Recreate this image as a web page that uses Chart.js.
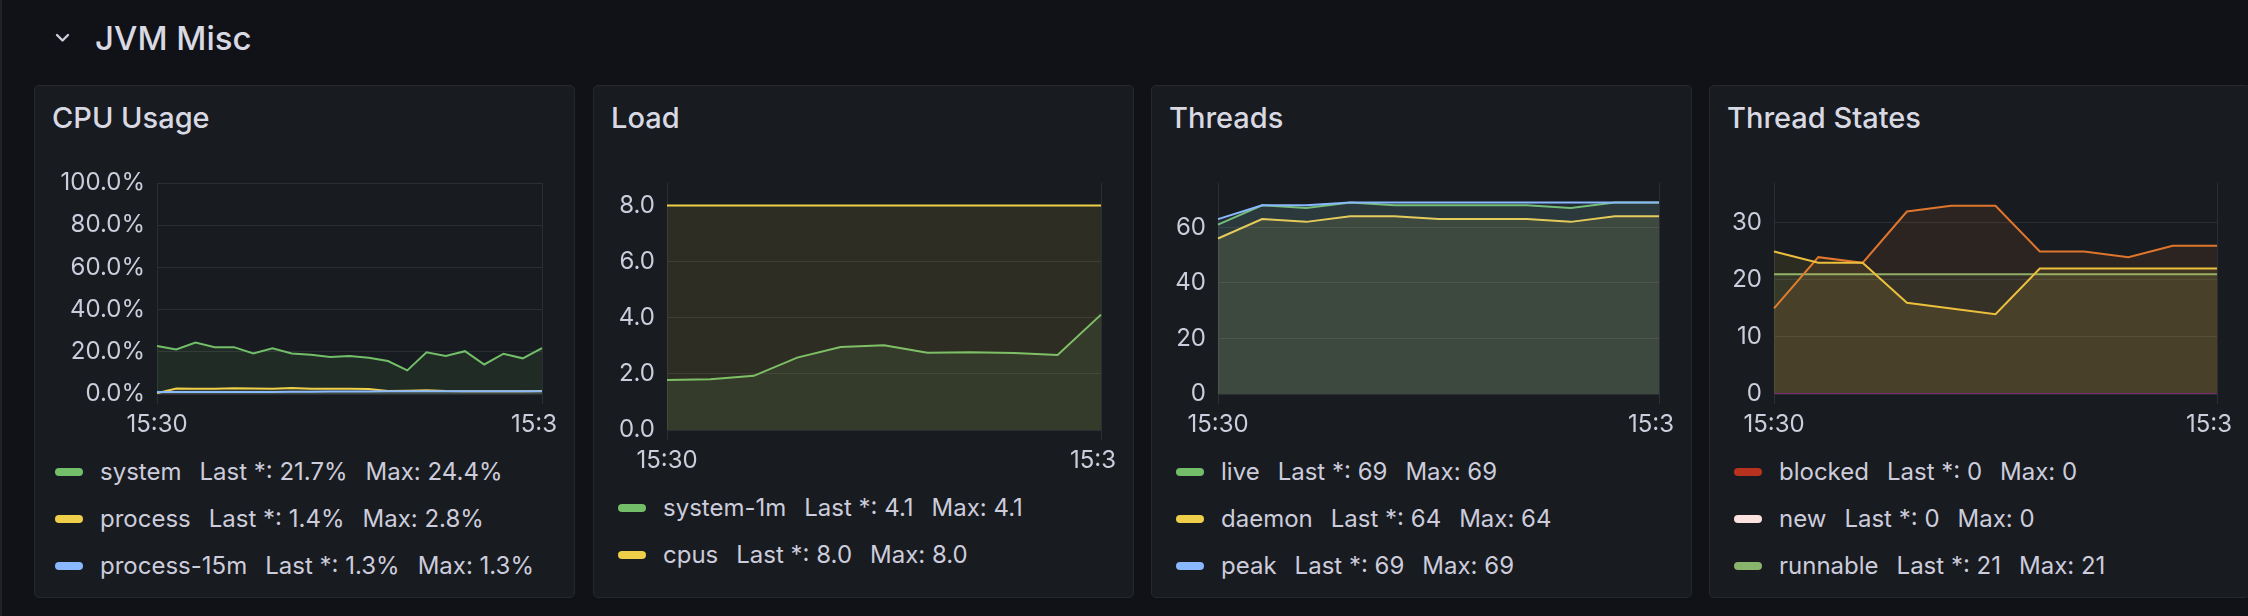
<!DOCTYPE html>
<html>
<head>
<meta charset="utf-8">
<script src="https://cdn.jsdelivr.net/npm/chart.js@4.4.1/dist/chart.umd.min.js"></script>
<style>
    body {
        margin: 0;
        width: 2248px;
        height: 616px;
        overflow: hidden;
        position: relative;
        background: #111217;
        font-family: Inter, "Noto Sans", sans-serif;
        color: #ccccdc;
    }
    .edge { position: absolute; left: 0; top: 0; width: 2px; height: 616px; background: #202227; }
    .row_title { position: absolute; left: 95px; top: 22px; font-size: 33px; line-height: 33px; font-weight: 500; color: #d8d9e3; }
    .chevron { position: absolute; left: 55px; top: 33px; }
    .panel { position: absolute; top: 85px; height: 513px; width: 541px; box-sizing: border-box; background: #181b1f; border: 1px solid #26282e; border-radius: 5px; }
    .panel_title { position: absolute; top: 103px; font-size: 29px; line-height: 29px; font-weight: 500; color: #d8d9e3; }
    canvas { position: absolute; top: 167px; }
    .legend { position: absolute; font-size: 24px; white-space: nowrap; }
    .legend .row { height: 47px; line-height: 47px; display: flex; align-items: center; }
    .legend .swatch { width: 28px; height: 8px; border-radius: 4px; margin-right: 17px; }
    .legend .stat { margin-left: 18px; }
</style>
</head>
<body>
<div class="edge"></div>
<svg class="chevron" width="15" height="10" viewBox="0 0 15 10"><polyline points="2,2 7.5,7.5 13,2" fill="none" stroke="#ccccdc" stroke-width="2.4" stroke-linecap="round" stroke-linejoin="round"/></svg>
<div class="row_title">JVM Misc</div>

<script>
// x categories
var times15s = ['15:30:00', '15:30:15', '15:30:30', '15:30:45', '15:31:00', '15:31:15', '15:31:30', '15:31:45',
    '15:32:00', '15:32:15', '15:32:30', '15:32:45', '15:33:00', '15:33:15', '15:33:30', '15:33:45',
    '15:34:00', '15:34:15', '15:34:30', '15:34:45', '15:35:00'];
var times30s = ['15:30:00', '15:30:30', '15:31:00', '15:31:30', '15:32:00', '15:32:30',
    '15:33:00', '15:33:30', '15:34:00', '15:34:30', '15:35:00'];
var xTickLabels = ['15:30', '15:3'];

// CPU Usage (%)
var cpuSystem = [22.7, 21.1, 24.4, 22.2, 22.2, 19.2, 21.7, 19.2, 18.6, 17.5, 18.0, 17.2, 15.6, 11.2, 19.8, 18.0, 20.3, 14.0, 19.1, 16.9, 21.7];
var cpuProcess = [0.4, 2.6, 2.5, 2.5, 2.7, 2.6, 2.5, 2.8, 2.5, 2.5, 2.5, 2.4, 1.4, 1.5, 1.8, 1.4, 1.3, 1.3, 1.3, 1.3, 1.4];
var cpuProcess15m = [0.9, 0.9, 1.0, 1.0, 1.0, 1.0, 1.0, 1.1, 1.1, 1.2, 1.2, 1.2, 1.3, 1.3, 1.3, 1.3, 1.3, 1.3, 1.3, 1.3, 1.3];
var cpuTicks = [0, 20, 40, 60, 80, 100];

// Load
var loadSystem1m = [1.78, 1.81, 1.93, 2.58, 2.96, 3.02, 2.75, 2.77, 2.74, 2.67, 4.11];
var loadCpus = [8, 8, 8, 8, 8, 8, 8, 8, 8, 8, 8];
var loadTicks = [0, 2, 4, 6, 8];

// Threads
var threadsLive = [61, 68, 67, 69, 68, 68, 68, 68, 67, 69, 69];
var threadsDaemon = [56, 63, 62, 64, 64, 63, 63, 63, 62, 64, 64];
var threadsPeak = [63, 68, 68, 69, 69, 69, 69, 69, 69, 69, 69];
var threadsTicks = [0, 20, 40, 60];

// Thread States
var statesBlocked = [0, 0, 0, 0, 0, 0, 0, 0, 0, 0, 0];
var statesNew = [0, 0, 0, 0, 0, 0, 0, 0, 0, 0, 0];
var statesRunnable = [21, 21, 21, 21, 21, 21, 21, 21, 21, 21, 21];
var statesTerminated = [0, 0, 0, 0, 0, 0, 0, 0, 0, 0, 0];
var statesTimedWaiting = [15, 24, 23, 32, 33, 33, 25, 25, 24, 26, 26];
var statesWaiting = [25, 23, 23, 16, 15, 14, 22, 22, 22, 22, 22];
var statesTicks = [0, 10, 20, 30];

var gridColor = '#2b2e33';
var textColor = '#ccccdc';

Chart.defaults.font.family = 'Inter, "Noto Sans", sans-serif';
Chart.defaults.font.size = 24;
Chart.defaults.color = textColor;

function fade(hex, a) {
    var n = parseInt(hex.slice(1), 16);
    return 'rgba(' + (n >> 16) + ',' + ((n >> 8) & 255) + ',' + (n & 255) + ',' + a + ')';
}

var xLabels = {
    id: 'xLabels',
    afterDraw: function (chart) {
        var ctx = chart.ctx;
        var x = chart.scales.x;
        var n = chart.data.labels.length;
        var y = chart.chartArea.bottom + 38;
        ctx.save();
        ctx.font = '24px Inter, "Noto Sans", sans-serif';
        ctx.fillStyle = textColor;
        ctx.textBaseline = 'alphabetic';
        ctx.textAlign = 'center';
        ctx.fillText(xTickLabels[0], x.getPixelForValue(0), y);
        ctx.textAlign = 'left';
        ctx.fillText(xTickLabels[1], x.getPixelForValue(n - 1) - 31, y);
        ctx.restore();
    }
};

function panel(p) {
    var box = document.createElement('div');
    box.className = 'panel';
    box.style.left = p.left + 'px';
    document.body.appendChild(box);

    var title = document.createElement('div');
    title.className = 'panel_title';
    title.style.left = (p.left + 18) + 'px';
    title.textContent = p.title;
    document.body.appendChild(title);

    var cv = document.createElement('canvas');
    cv.width = 541;
    cv.height = p.height;
    cv.style.left = p.left + 'px';
    document.body.appendChild(cv);

    var datasets = p.series.map(function (s, i) {
        return {
            label: s.name,
            data: s.data,
            borderColor: s.color,
            backgroundColor: fade(s.color, 0.1),
            borderWidth: 2,
            pointRadius: 0,
            tension: 0,
            fill: 'origin',
            order: s.order !== undefined ? s.order : -i
        };
    });

    new Chart(cv, {
        type: 'line',
        data: { labels: p.labels, datasets: datasets },
        plugins: [xLabels],
        options: {
            responsive: false,
            animation: false,
            devicePixelRatio: 1,
            layout: { padding: { top: 16, right: 33, left: 0, bottom: 0 } },
            plugins: { legend: { display: false }, tooltip: { enabled: false } },
            scales: {
                x: {
                    border: { display: false },
                    grid: { color: gridColor, tickLength: 10, drawTicks: true },
                    ticks: { display: false },
                    afterBuildTicks: function (scale) {
                        var t = scale.ticks;
                        scale.ticks = [t[0], t[t.length - 1]];
                    },
                    afterFit: function (scale) { scale.height = 45; }
                },
                y: {
                    min: 0,
                    max: p.max,
                    border: { display: false },
                    grid: { color: gridColor, drawTicks: false },
                    ticks: { padding: 12, color: textColor, callback: p.fmt },
                    afterBuildTicks: function (scale) {
                        scale.ticks = p.ticks.map(function (v) { return { value: v }; });
                    },
                    afterFit: function (scale) {
                        scale.width = p.axisWidth;
                        scale.paddingTop = 0;
                        scale.paddingBottom = 0;
                    }
                }
            }
        }
    });

    // legend: name, last, max
    var lg = document.createElement('div');
    lg.className = 'legend';
    lg.style.left = (p.left + p.legendLeft) + 'px';
    lg.style.top = p.legendTop + 'px';
    p.series.slice(0, p.legendRows).forEach(function (s) {
        var last = s.data[s.data.length - 1];
        var max = Math.max.apply(null, s.data);
        var row = document.createElement('div');
        row.className = 'row';
        row.innerHTML = '<span class="swatch" style="background:' + s.color + '"></span>' +
            '<span>' + s.name + '</span>' +
            '<span class="stat">Last *: ' + p.stat(last) + '</span>' +
            '<span class="stat">Max: ' + p.stat(max) + '</span>';
        lg.appendChild(row);
    });
    document.body.appendChild(lg);
}

var pct = function (v) { return v.toFixed(1) + '%'; };
var one = function (v) { return v.toFixed(1); };
var whole = function (v) { return String(Math.round(v)); };

panel({
    title: 'CPU Usage', left: 34, axisWidth: 123, legendLeft: 21, legendTop: 448, legendRows: 3,
    height: 272, max: 100, ticks: cpuTicks, fmt: pct, stat: pct, labels: times15s,
    series: [
        { name: 'system', data: cpuSystem, color: '#73bf69' },
        { name: 'process', data: cpuProcess, color: '#eecf4a' },
        { name: 'process-15m', data: cpuProcess15m, color: '#8ab8ff' }
    ]
});

panel({
    title: 'Load', left: 593, axisWidth: 74, legendLeft: 25, legendTop: 484, legendRows: 2,
    height: 308, max: 8.8, ticks: loadTicks, fmt: one, stat: one, labels: times30s,
    series: [
        { name: 'system-1m', data: loadSystem1m, color: '#73bf69' },
        { name: 'cpus', data: loadCpus, color: '#eecf4a' }
    ]
});

panel({
    title: 'Threads', left: 1151, axisWidth: 67, legendLeft: 25, legendTop: 448, legendRows: 3,
    height: 272, max: 76, ticks: threadsTicks, fmt: whole, stat: whole, labels: times30s,
    series: [
        { name: 'live', data: threadsLive, color: '#73bf69' },
        { name: 'daemon', data: threadsDaemon, color: '#eecf4a' },
        { name: 'peak', data: threadsPeak, color: '#8ab8ff' }
    ]
});

panel({
    title: 'Thread States', left: 1709, axisWidth: 65, legendLeft: 25, legendTop: 448, legendRows: 3,
    height: 272, max: 37, ticks: statesTicks, fmt: whole, stat: whole, labels: times30s,
    series: [
        { name: 'blocked', data: statesBlocked, color: '#b8321f' },
        { name: 'new', data: statesNew, color: '#fce2de' },
        { name: 'runnable', data: statesRunnable, color: '#89b46c' },
        { name: 'terminated', data: statesTerminated, color: '#7a2a70', order: -10 },
        { name: 'timed-waiting', data: statesTimedWaiting, color: '#e0752d' },
        { name: 'waiting', data: statesWaiting, color: '#ecc03c' }
    ]
});
</script>
</body>
</html>
